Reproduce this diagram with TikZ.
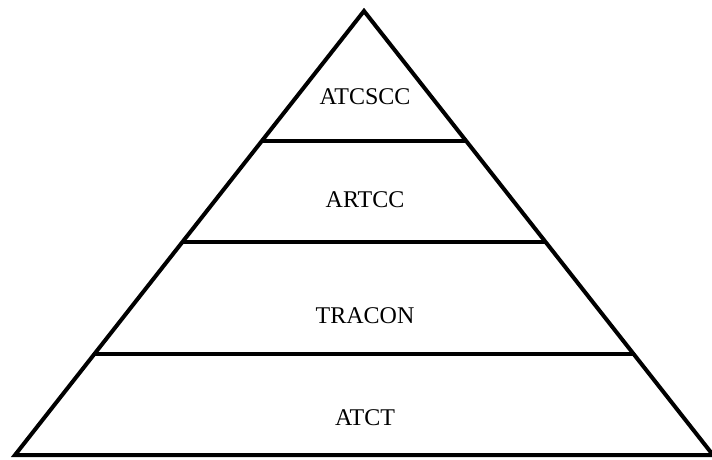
\documentclass[tikz,border=0pt]{standalone}
\usepackage{fontspec}
\setmainfont{Liberation Serif}
\usetikzlibrary{calc}
\tikzstyle{side} = [draw, line width=4pt, line join=miter]
\tikzstyle{divider} = [draw, line width=4pt]
\tikzstyle{level} = [font=\fontsize{24}{28}\selectfont, inner sep=0pt]

\begin{document}
\begin{tikzpicture}[x=1pt, y=-1pt]
    \useasboundingbox (0,0) rectangle (712,459);

    % outline of the pyramid
    \coordinate (top) at (364,11);
    \coordinate (left) at (15,455);
    \coordinate (right) at (713,455);
    \path[side] (left) -- (top) -- (right) -- cycle;

    % dividers between the levels
    \foreach \name/\t in {a/0.293, b/0.520, c/0.773} {
        \coordinate (\name L) at ($(top)!\t!(left)$);
        \coordinate (\name R) at ($(top)!\t!(right)$);
        \path[divider] (\name L) -- (\name R);
    }

    % level names
    \foreach \pos/\name/\txt in {{(365,97)/atcscc/ATCSCC}, {(365,200)/artcc/ARTCC},
                                 {(365,316)/tracon/TRACON}, {(365,418)/atct/ATCT}}
        \node[level] (\name) at \pos {\txt};
\end{tikzpicture}
\end{document}
